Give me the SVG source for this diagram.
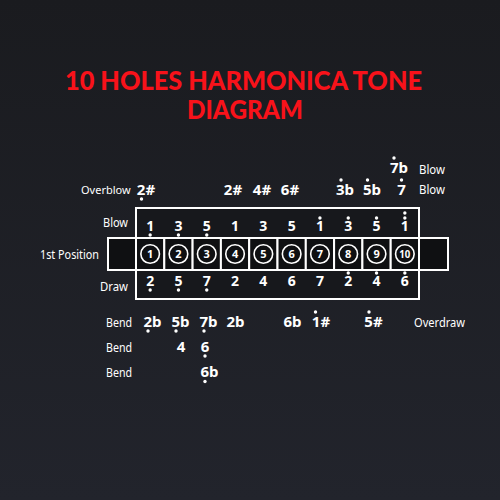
<svg xmlns="http://www.w3.org/2000/svg" width="500" height="500" viewBox="0 0 500 500">
<defs>
<linearGradient id="bg" x1="0" y1="0" x2="0" y2="1">
<stop offset="0" stop-color="#1a1b1f"/>
<stop offset="1" stop-color="#22242c"/>
</linearGradient>
</defs>
<style>
.title{font-family:Lato,"Liberation Sans",sans-serif;font-weight:900;fill:#f8121a;font-size:26px;text-anchor:middle}
.lbl{font-family:"Noto Sans","Liberation Sans",sans-serif;fill:#ffffff;font-size:13px}
.note{font-family:"Noto Sans","Liberation Sans",sans-serif;font-weight:700;fill:#ffffff;font-size:15px;text-anchor:middle}
.hn{font-family:"Noto Sans","Liberation Sans",sans-serif;font-weight:700;fill:#ffffff;font-size:14px;text-anchor:middle}
.cn{font-family:"Noto Sans","Liberation Sans",sans-serif;font-weight:700;fill:#ffffff;font-size:11px;text-anchor:middle}
.dot{fill:#ffffff}
.cell{fill:#0f1012;stroke:#ffffff;stroke-width:2}
.ring{fill:none;stroke:#ffffff;stroke-width:1.6}
.box{fill:#17181c;stroke:#ffffff;stroke-width:2}
</style>
<rect width="500" height="500" fill="url(#bg)"/>
<g id="title">
<text class="title" x="243.5" y="90" textLength="357" lengthAdjust="spacingAndGlyphs">10 HOLES HARMONICA TONE</text>
<text class="title" x="245" y="119" textLength="116" lengthAdjust="spacingAndGlyphs">DIAGRAM</text>
</g>
<g id="connectors"></g>
<g id="harmonica-box">
<rect class="box" x="136" y="208" width="283" height="91"/>
</g>
<g id="position-band">
<rect class="cell" x="108" y="238" width="28" height="32"/>
<rect class="cell" x="419" y="238" width="29" height="32"/>
<text class="lbl" x="99" y="259" text-anchor="end" textLength="59" lengthAdjust="spacingAndGlyphs">1st Position</text>
</g>
<g id="holes">
<g id="hole1"><rect class="cell" x="136" y="238" width="28.3" height="32"/><circle class="ring" cx="150.15" cy="254" r="9.3"/><text class="cn" x="150.15" y="258">1</text></g>
<g id="hole2"><rect class="cell" x="164.3" y="238" width="28.3" height="32"/><circle class="ring" cx="178.45" cy="254" r="9.3"/><text class="cn" x="178.45" y="258">2</text></g>
<g id="hole3"><rect class="cell" x="192.6" y="238" width="28.3" height="32"/><circle class="ring" cx="206.75" cy="254" r="9.3"/><text class="cn" x="206.75" y="258">3</text></g>
<g id="hole4"><rect class="cell" x="220.9" y="238" width="28.3" height="32"/><circle class="ring" cx="235.05" cy="254" r="9.3"/><text class="cn" x="235.05" y="258">4</text></g>
<g id="hole5"><rect class="cell" x="249.2" y="238" width="28.3" height="32"/><circle class="ring" cx="263.35" cy="254" r="9.3"/><text class="cn" x="263.35" y="258">5</text></g>
<g id="hole6"><rect class="cell" x="277.5" y="238" width="28.3" height="32"/><circle class="ring" cx="291.65" cy="254" r="9.3"/><text class="cn" x="291.65" y="258">6</text></g>
<g id="hole7"><rect class="cell" x="305.8" y="238" width="28.3" height="32"/><circle class="ring" cx="319.95" cy="254" r="9.3"/><text class="cn" x="319.95" y="258">7</text></g>
<g id="hole8"><rect class="cell" x="334.1" y="238" width="28.3" height="32"/><circle class="ring" cx="348.25" cy="254" r="9.3"/><text class="cn" x="348.25" y="258">8</text></g>
<g id="hole9"><rect class="cell" x="362.4" y="238" width="28.3" height="32"/><circle class="ring" cx="376.55" cy="254" r="9.3"/><text class="cn" x="376.55" y="258">9</text></g>
<g id="hole10"><rect class="cell" x="390.7" y="238" width="28.3" height="32"/><circle class="ring" cx="404.85" cy="254" r="9.3"/><text class="cn" x="404.85" y="258" textLength="11" lengthAdjust="spacingAndGlyphs">10</text></g>
</g>
<g id="blow-row">
<text class="lbl" x="128" y="227" text-anchor="end" textLength="25" lengthAdjust="spacingAndGlyphs">Blow</text>
<text class="hn" x="150.15" y="231">1</text><circle class="dot" cx="150.15" cy="235" r="1.7"/>
<text class="hn" x="178.45" y="231">3</text><circle class="dot" cx="178.45" cy="235" r="1.7"/>
<text class="hn" x="206.75" y="231">5</text><circle class="dot" cx="206.75" cy="235" r="1.7"/>
<text class="hn" x="235.05" y="231">1</text>
<text class="hn" x="263.35" y="231">3</text>
<text class="hn" x="291.65" y="231">5</text>
<text class="hn" x="319.95" y="231">1</text><circle class="dot" cx="319.95" cy="218" r="1.7"/>
<text class="hn" x="348.25" y="231">3</text><circle class="dot" cx="348.25" cy="218" r="1.7"/>
<text class="hn" x="376.55" y="231">5</text><circle class="dot" cx="376.55" cy="218" r="1.7"/>
<text class="hn" x="404.85" y="231">1</text><circle class="dot" cx="404.85" cy="218" r="1.7"/><circle class="dot" cx="404.85" cy="213" r="1.7"/>
</g>
<g id="draw-row">
<text class="lbl" x="128" y="291" text-anchor="end" textLength="28" lengthAdjust="spacingAndGlyphs">Draw</text>
<text class="hn" x="150.15" y="286">2</text><circle class="dot" cx="150.15" cy="290" r="1.7"/>
<text class="hn" x="178.45" y="286">5</text><circle class="dot" cx="178.45" cy="290" r="1.7"/>
<text class="hn" x="206.75" y="286">7</text><circle class="dot" cx="206.75" cy="290" r="1.7"/>
<text class="hn" x="235.05" y="286">2</text>
<text class="hn" x="263.35" y="286">4</text>
<text class="hn" x="291.65" y="286">6</text>
<text class="hn" x="319.95" y="286">7</text>
<text class="hn" x="348.25" y="286">2</text><circle class="dot" cx="348.25" cy="273" r="1.7"/>
<text class="hn" x="376.55" y="286">4</text><circle class="dot" cx="376.55" cy="273" r="1.7"/>
<text class="hn" x="404.85" y="286">6</text><circle class="dot" cx="404.85" cy="273" r="1.7"/>
</g>
<g id="top-blow-row">
<text class="note" x="399" y="173">7b</text><circle class="dot" cx="394" cy="158" r="1.7"/>
<text class="lbl" x="419" y="174" textLength="26" lengthAdjust="spacingAndGlyphs">Blow</text>
</g>
<g id="overblow-row">
<text class="lbl" x="81" y="194" style="font-size:11px">Overblow</text>
<text class="note" x="146" y="195">2#</text><circle class="dot" cx="141.5" cy="199" r="1.7"/>
<text class="note" x="233" y="195">2#</text>
<text class="note" x="262" y="195">4#</text>
<text class="note" x="290" y="195">6#</text>
<text class="note" x="345" y="195">3b</text><circle class="dot" cx="341" cy="180" r="1.7"/>
<text class="note" x="372" y="195">5b</text><circle class="dot" cx="367.5" cy="180" r="1.7"/>
<text class="note" x="401.5" y="195">7</text><circle class="dot" cx="401.5" cy="180" r="1.7"/>
<text class="lbl" x="419" y="194" textLength="26" lengthAdjust="spacingAndGlyphs">Blow</text>
</g>
<g id="bend-row1">
<text class="lbl" x="106" y="327" textLength="26" lengthAdjust="spacingAndGlyphs">Bend</text>
<text class="note" x="152.5" y="327">2b</text><circle class="dot" cx="148" cy="331" r="1.7"/>
<text class="note" x="180.5" y="327">5b</text><circle class="dot" cx="176" cy="331" r="1.7"/>
<text class="note" x="208.5" y="327">7b</text><circle class="dot" cx="204" cy="331" r="1.7"/>
<text class="note" x="235.5" y="327">2b</text>
<text class="note" x="292.5" y="327">6b</text>
<text class="note" x="321" y="327">1#</text><circle class="dot" cx="315.5" cy="312" r="1.7"/>
<text class="note" x="373.5" y="327">5#</text><circle class="dot" cx="369" cy="312" r="1.7"/>
<text class="lbl" x="414" y="327" textLength="51" lengthAdjust="spacingAndGlyphs">Overdraw</text>
</g>
<g id="bend-row2">
<text class="lbl" x="106" y="352" textLength="26" lengthAdjust="spacingAndGlyphs">Bend</text>
<text class="note" x="181" y="352">4</text>
<text class="note" x="205" y="352">6</text><circle class="dot" cx="205" cy="356" r="1.7"/>
</g>
<g id="bend-row3">
<text class="lbl" x="106" y="377" textLength="26" lengthAdjust="spacingAndGlyphs">Bend</text>
<text class="note" x="209.5" y="377">6b</text><circle class="dot" cx="205" cy="381.5" r="1.7"/>
</g>
</svg>
